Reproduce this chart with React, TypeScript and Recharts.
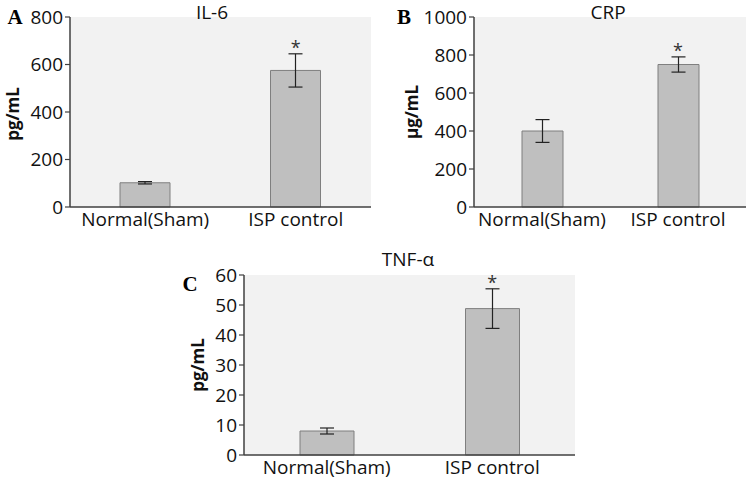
import { BarChart, Bar, XAxis, YAxis, CartesianGrid, ErrorBar, ReferenceDot } from 'recharts'

// ─── Data ────────────────────────────────────────────────────────────────────

const categories = ['Normal(Sham)', 'ISP control']
const significant = [false, true]

const il6Values = [102, 575]
const il6Errors = [5, 70]
const il6Ticks = [0, 200, 400, 600, 800]

const crpValues = [400, 750]
const crpErrors = [60, 40]
const crpTicks = [0, 200, 400, 600, 800, 1000]

const tnfValues = [8, 48.8]
const tnfErrors = [1, 6.6]
const tnfTicks = [0, 10, 20, 30, 40, 50, 60]

// ─── Styles ──────────────────────────────────────────────────────────────────

const FONT = '"Open Sans", "Liberation Sans", sans-serif'
const AXIS = '#404040'
const tickStyle = { fill: '#111', fontSize: 19, fontFamily: FONT }

interface PanelProps {
  values: number[]
  errors: number[]
  ticks: number[]
  width: number
  height: number
  yWidth: number
  top: number
  right: number
  xHeight: number
  barSize: number
}

function Panel({ values, errors, ticks, width, height, yWidth, top, right, xHeight, barSize }: PanelProps) {
  const data = categories.map((c, i) => ({ name: c, value: values[i], err: errors[i] }))
  const max = ticks[ticks.length - 1]
  return (
    <BarChart width={width} height={height} data={data} margin={{ top, right, bottom: 0, left: 0 }}>
      <CartesianGrid fill="#f2f2f2" stroke="none" horizontal={false} vertical={false} />
      <XAxis
        dataKey="name"
        tick={tickStyle}
        tickLine={false}
        tickSize={0}
        tickMargin={6}
        height={xHeight}
        axisLine={{ stroke: AXIS, strokeWidth: 1.5 }}
      />
      <YAxis
        domain={[0, max]}
        ticks={ticks}
        interval={0}
        tick={tickStyle}
        tickSize={5}
        tickMargin={2}
        width={yWidth}
        axisLine={{ stroke: AXIS, strokeWidth: 1.5 }}
        tickLine={{ stroke: AXIS, strokeWidth: 1.2 }}
      />
      <Bar dataKey="value" fill="#bfbfbf" stroke="#7f7f7f" strokeWidth={1} barSize={barSize} isAnimationActive={false}>
        <ErrorBar dataKey="err" width={7} stroke="#222" strokeWidth={1.2} isAnimationActive={false} />
      </Bar>
      {data.map((d, i) =>
        significant[i] ? (
          <ReferenceDot
            key={d.name}
            x={d.name}
            y={d.value + d.err}
            r={0.01}
            fill="none"
            stroke="none"
            label={{ value: '*', position: 'top', offset: 0, fill: '#333', fontSize: 18, fontFamily: FONT }}
          />
        ) : null
      )}
    </BarChart>
  )
}

function Text({ x, y, children, style }: { x: number; y: number; children: string; style?: React.CSSProperties }) {
  return (
    <div
      style={{
        position: 'absolute',
        left: x,
        top: y,
        transform: 'translate(-50%, -50%)',
        whiteSpace: 'nowrap',
        fontFamily: FONT,
        fontSize: 19,
        color: '#111',
        lineHeight: 1,
        ...style,
      }}
    >
      {children}
    </div>
  )
}

const letterStyle: React.CSSProperties = { fontFamily: '"Liberation Serif", serif', fontWeight: 700, fontSize: 21, color: '#000' }
const unitStyle: React.CSSProperties = { fontWeight: 700, fontSize: 17, transform: 'translate(-50%, -50%) rotate(-90deg)' }

export default function App() {
  return (
    <div style={{ position: 'absolute', left: 0, top: 0, width: 756, height: 484, background: '#fff', overflow: 'hidden' }}>
      <div style={{ position: 'absolute', left: 0, top: 0 }}>
        <Panel values={il6Values} errors={il6Errors} ticks={il6Ticks} width={376} height={240} yWidth={70} top={17} right={5} xHeight={33} barSize={50} />
      </div>
      <div style={{ position: 'absolute', left: 376, top: 0 }}>
        <Panel values={crpValues} errors={crpErrors} ticks={crpTicks} width={380} height={240} yWidth={98} top={17} right={10} xHeight={33} barSize={41} />
      </div>
      <div style={{ position: 'absolute', left: 150, top: 240 }}>
        <Panel values={tnfValues} errors={tnfErrors} ticks={tnfTicks} width={430} height={244} yWidth={94} top={35} right={5} xHeight={29} barSize={54} />
      </div>

      <Text x={212} y={12}>IL-6</Text>
      <Text x={608} y={12}>CRP</Text>
      <Text x={408} y={259}>TNF-α</Text>

      <Text x={15} y={17} style={letterStyle}>A</Text>
      <Text x={404} y={17} style={letterStyle}>B</Text>
      <Text x={190} y={284} style={letterStyle}>C</Text>

      <Text x={12} y={114} style={unitStyle}>pg/mL</Text>
      <Text x={411} y={112} style={unitStyle}>μg/mL</Text>
      <Text x={197} y={365} style={unitStyle}>pg/mL</Text>
    </div>
  )
}
